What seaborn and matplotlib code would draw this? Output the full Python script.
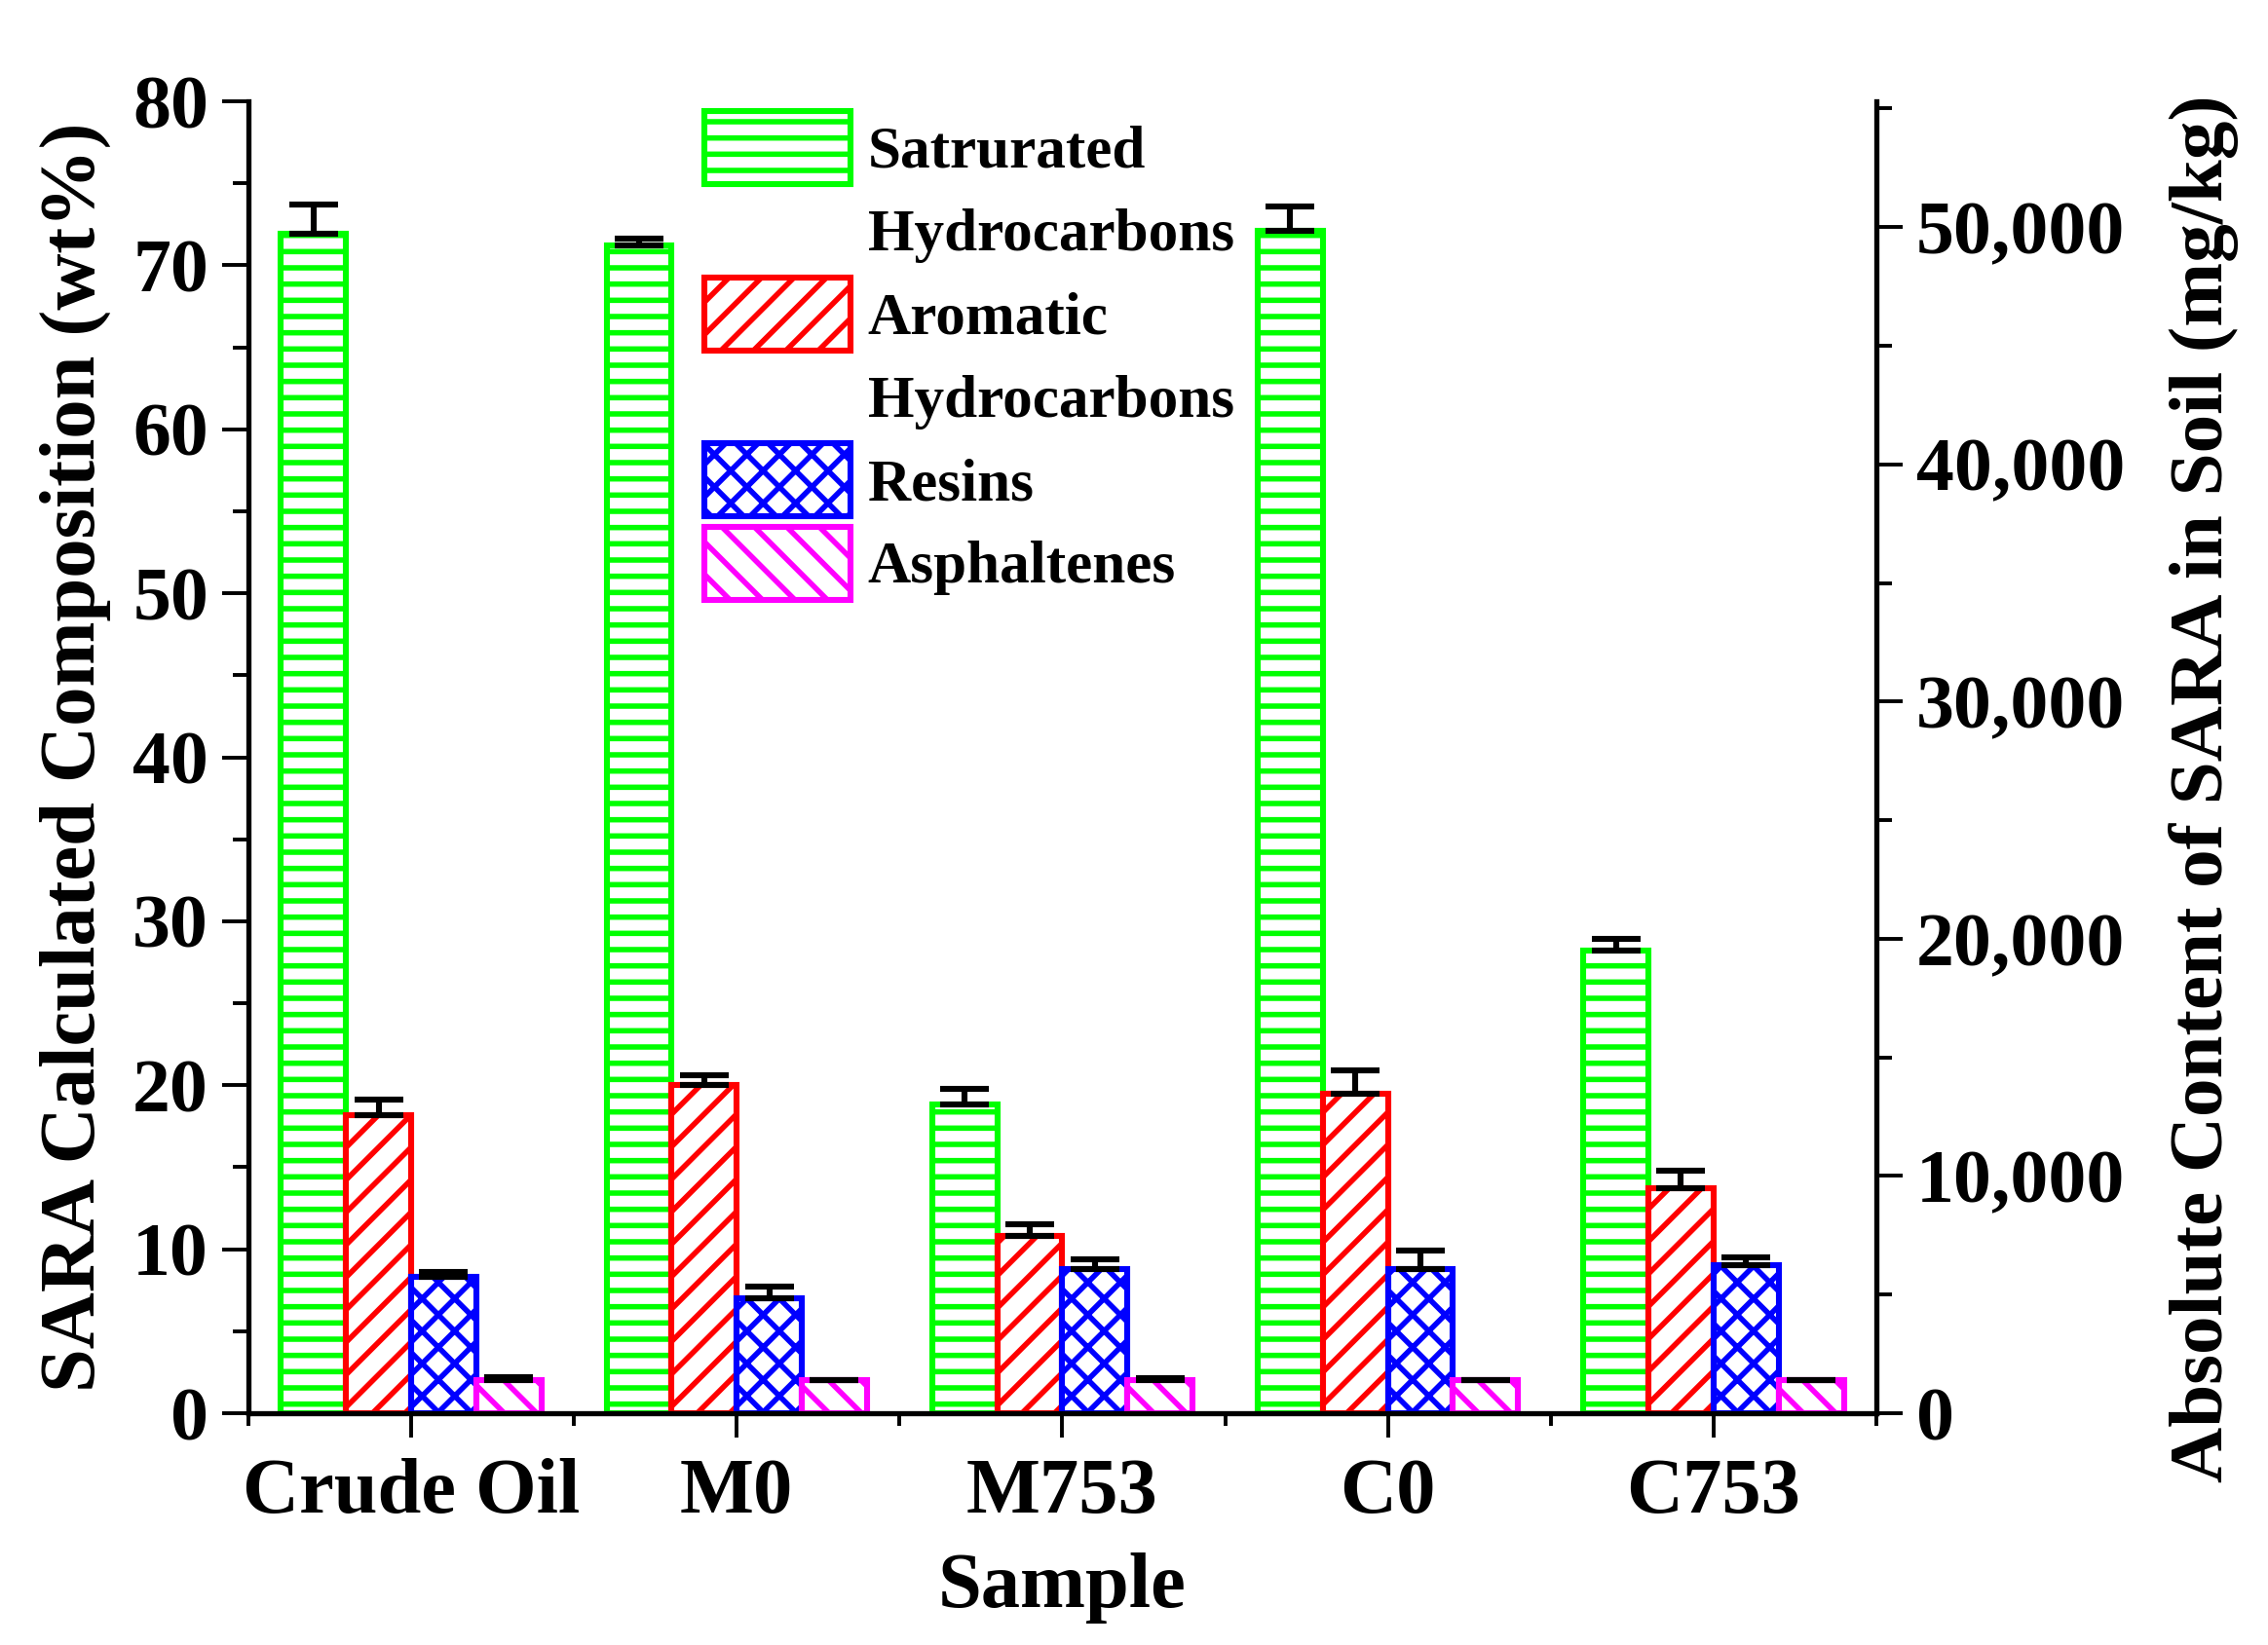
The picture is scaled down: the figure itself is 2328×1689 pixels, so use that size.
import numpy as np
import pandas as pd
import matplotlib
matplotlib.use('Agg')
import matplotlib.pyplot as plt
import matplotlib.patches as mpatches
from matplotlib.ticker import MultipleLocator, FixedLocator, FuncFormatter
import seaborn as sns

samples = ['Crude Oil', 'M0', 'M753', 'C0', 'C753']
fractions = ['Satrurated Hydrocarbons', 'Aromatic Hydrocarbons', 'Resins', 'Asphaltenes']

saturated = [71.9, 71.2, 18.8, 72.1, 28.2]
aromatic = [18.2, 20.0, 10.8, 19.5, 13.7]
resins = [8.3, 7.0, 8.8, 8.8, 9.0]
asphaltenes = [2.05, 2.0, 2.05, 2.0, 2.0]

saturated_err = [1.8, 0.4, 1.0, 1.5, 0.7]
aromatic_err = [0.9, 0.6, 0.7, 1.4, 1.1]
resins_err = [0.3, 0.7, 0.6, 1.1, 0.5]
asphaltenes_err = [0.15, 0.05, 0.1, 0.05, 0.05]

colors = ['#00ff00', '#ff0000', '#0000ff', '#ff00ff']
hatches = ['--', '//', 'xx', '\\\\']

df = pd.DataFrame({
    'Sample': samples * 4,
    'Fraction': np.repeat(fractions, len(samples)),
    'wt': saturated + aromatic + resins + asphaltenes,
    'err': saturated_err + aromatic_err + resins_err + asphaltenes_err,
})

sns.set_theme(style='ticks')
plt.rcParams['font.family'] = ['Liberation Serif', 'DejaVu Serif']
plt.rcParams['font.weight'] = 'bold'
plt.rcParams['axes.labelweight'] = 'bold'
plt.rcParams['hatch.linewidth'] = 2.0
for k in ['text.color', 'axes.labelcolor', 'xtick.color', 'ytick.color', 'axes.edgecolor']:
    plt.rcParams[k] = 'black'

fig = plt.figure(figsize=(11.64, 8.445), dpi=200)
ax = fig.add_axes([0.1095, 0.1409, 0.7178, 0.7975])

sns.barplot(data=df, x='Sample', y='wt', hue='Fraction', order=samples,
            hue_order=fractions, palette=colors, fill=False, linewidth=2.2,
            errorbar=None, width=0.8, legend=False, ax=ax)

for container, frac, col, h in zip(ax.containers, fractions, colors, hatches):
    sub = df[df['Fraction'] == frac]
    xs = []
    for bar in container:
        bar.set_facecolor('white')
        bar.set_edgecolor(col)
        bar.set_hatch(h)
        bar.set_linewidth(2.2)
        xs.append(bar.get_x() + bar.get_width() / 2)
    ax.errorbar(xs, sub['wt'], yerr=[np.zeros(len(sub)), sub['err']], fmt='none',
                ecolor='black', elinewidth=2.2, capsize=9, capthick=2.2, zorder=5)

ax.set_xlim(-0.5, 4.5)
ax.set_ylim(0, 80)
ax.yaxis.set_major_locator(MultipleLocator(10))
ax.yaxis.set_minor_locator(MultipleLocator(5))
ax.xaxis.set_minor_locator(FixedLocator(np.arange(-0.5, 5, 1)))

for s in ['top', 'right']:
    ax.spines[s].set_visible(False)
for s in ['left', 'bottom']:
    ax.spines[s].set_linewidth(1.9)

ax.tick_params(axis='y', which='major', length=9.7, width=1.4, direction='out',
               labelsize=28, pad=5)
ax.tick_params(axis='y', which='minor', length=5.9, width=1.4, direction='out')
ax.tick_params(axis='x', which='major', length=9, width=1.4, direction='out',
               labelsize=29, pad=7.5)
ax.tick_params(axis='x', which='minor', length=4.5, width=1.4, direction='out')

ax.set_xlabel('Sample', fontsize=29, labelpad=8.7)
ax.set_ylabel('SARA Calculated Composition (wt%)', fontsize=29, labelpad=8)

ax2 = ax.twinx()
ax2.set_ylim(0, 55300)
ax2.yaxis.set_major_locator(MultipleLocator(10000))
ax2.yaxis.set_minor_locator(MultipleLocator(5000))
ax2.yaxis.set_major_formatter(FuncFormatter(lambda v, p: f'{v:,.0f}'))
for s in ['top', 'left', 'bottom']:
    ax2.spines[s].set_visible(False)
ax2.spines['right'].set_linewidth(1.9)
ax2.tick_params(axis='y', which='major', length=9.7, width=1.4, direction='out',
                labelsize=28, pad=5)
ax2.tick_params(axis='y', which='minor', length=5.9, width=1.4, direction='out')
ax2.set_ylabel('Absolute Content of SARA in Soil (mg/kg)', fontsize=28.5, labelpad=16.3)
ax2.yaxis.label.set_y(0.476)

# legend: long names split over two rows like the original
handles, labels = [], []
blank = mpatches.Patch(facecolor='none', edgecolor='none')
for frac, col, h in zip(fractions, colors, hatches):
    words = frac.split(' ', 1)
    handles.append(mpatches.Patch(facecolor='white', edgecolor=col, hatch=h, linewidth=2.2))
    labels.append(words[0])
    if len(words) > 1:
        handles.append(blank)
        labels.append(words[1])

fig.legend(handles, labels, loc='upper left', bbox_to_anchor=(0.3106, 0.9325),
           frameon=False, fontsize=22, handlelength=2.45, handleheight=1.51,
           labelspacing=0.17, handletextpad=0.29, borderpad=0, borderaxespad=0)

fig.savefig('out.png', dpi=200)
